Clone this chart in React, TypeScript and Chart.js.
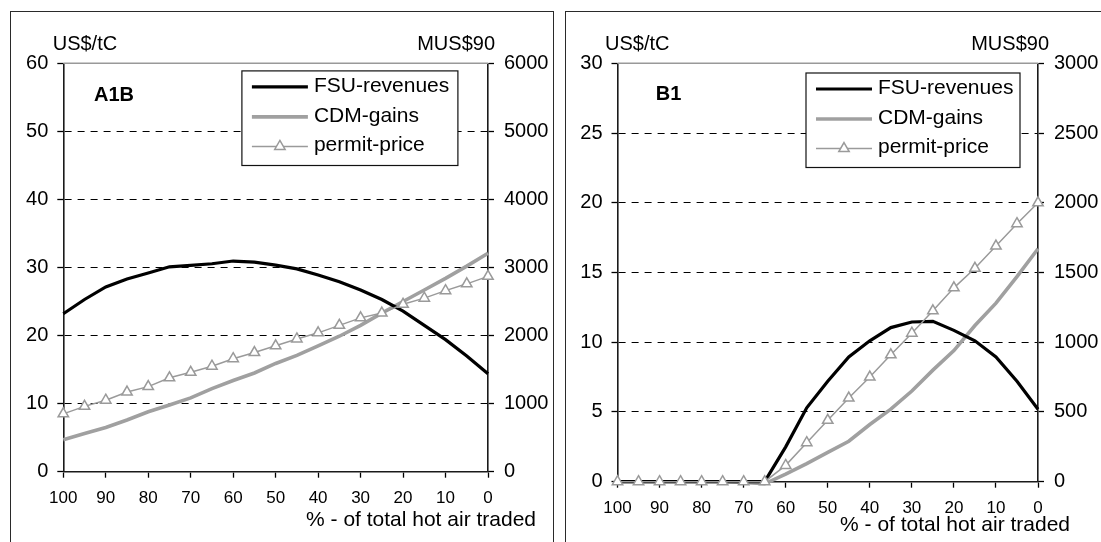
import React, { useEffect, useRef } from "react";
import { Chart, registerables } from "chart.js";

Chart.register(...registerables);

// Share of the total hot air that is traded (%), plotted right-to-left
const hotAirShare = [100, 95, 90, 85, 80, 75, 70, 65, 60, 55, 50, 45, 40, 35, 30, 25, 20, 15, 10, 5, 0];

// A1B scenario
const a1bFsuRevenues = [2320, 2530, 2715, 2830, 2920, 3010, 3030, 3055, 3095, 3080, 3035, 2980, 2890, 2790, 2670, 2530, 2360, 2150, 1940, 1700, 1440]; // MUS$90
const a1bCdmGains = [470, 560, 650, 760, 880, 980, 1085, 1220, 1340, 1450, 1590, 1710, 1850, 1990, 2150, 2330, 2500, 2670, 2840, 3020, 3210]; // MUS$90
const a1bPermitPrice = [8.5, 9.6, 10.5, 11.7, 12.5, 13.8, 14.6, 15.5, 16.6, 17.5, 18.5, 19.5, 20.4, 21.5, 22.6, 23.3, 24.6, 25.5, 26.6, 27.6, 28.7]; // US$/tC

// B1 scenario
const b1FsuRevenues = [0, 0, 0, 0, 0, 0, 0, 0, 250, 530, 720, 895, 1010, 1105, 1145, 1150, 1085, 1010, 895, 720, 520]; // MUS$90
const b1CdmGains = [0, 0, 0, 0, 0, 0, -5, -15, 55, 130, 210, 290, 410, 520, 650, 800, 940, 1120, 1280, 1470, 1670]; // MUS$90
const b1PermitPrice = [0, 0, 0, 0, 0, 0, 0, 0, 1.17, 2.8, 4.4, 6.0, 7.5, 9.1, 10.65, 12.25, 13.9, 15.3, 16.9, 18.5, 20.0]; // US$/tC

// Axis ranges
const a1bPriceMax = 60;
const a1bPriceStep = 10;
const a1bMoneyMax = 6000;
const a1bMoneyStep = 1000;
const b1PriceMax = 30;
const b1PriceStep = 5;
const b1MoneyMax = 3000;
const b1MoneyStep = 500;

const seriesNames = ["FSU-revenues", "CDM-gains", "permit-price"];
const priceUnit = "US$/tC";
const moneyUnit = "MUS$90";
const xAxisTitle = "% - of total hot air traded";

const FONT = "'Liberation Sans', Arial, Helvetica, sans-serif";
const BLACK = "#000000";
const GRAY_THICK = "#a0a0a0";
const GRAY_THIN = "#9a9a9a";
const AXIS = "#1a1a1a";

type PanelSpec = {
  name: string;
  fsu: number[];
  cdm: number[];
  price: number[];
  priceMax: number;
  priceStep: number;
  moneyMax: number;
  moneyStep: number;
  canvasWidth: number;
  leftAxisWidth: number;
  rightAxisWidth: number;
  bottomAxisHeight: number;
  unitLeftDx: number;
  unitRightDx: number;
  nameDx: number;
  nameDy: number;
  titleDx: number;
  titleDy: number;
  legendDx: number;
  legendDy: number;
  legendW: number;
  legendH: number;
};

function toPoints(values: number[]) {
  return values.map((v, i) => ({ x: hotAirShare[i], y: v }));
}

// plain integer labels, no thousands separator
const plainLabel = (v: number | string) => String(v);

function drawTriangle(ctx: CanvasRenderingContext2D, x: number, y: number, r: number) {
  let rad = 0;
  ctx.beginPath();
  ctx.moveTo(x + Math.sin(rad) * r, y - Math.cos(rad) * r);
  rad += (2 * Math.PI) / 3;
  ctx.lineTo(x + Math.sin(rad) * r, y - Math.cos(rad) * r);
  rad += (2 * Math.PI) / 3;
  ctx.lineTo(x + Math.sin(rad) * r, y - Math.cos(rad) * r);
  ctx.closePath();
  ctx.fillStyle = "#ffffff";
  ctx.fill();
  ctx.stroke();
}

function decorPlugin(p: PanelSpec) {
  return {
    id: "panelDecor",
    beforeDatasetsDraw(chart: any) {
      const { ctx, chartArea: ca } = chart;
      // light frame along the top of the plot area
      ctx.save();
      ctx.strokeStyle = "#999999";
      ctx.lineWidth = 1.5;
      ctx.beginPath();
      ctx.moveTo(ca.left, ca.top);
      ctx.lineTo(ca.right, ca.top);
      ctx.stroke();
      ctx.restore();
    },
    afterDraw(chart: any) {
      const { ctx, chartArea: ca } = chart;
      ctx.save();
      ctx.fillStyle = BLACK;
      ctx.textBaseline = "middle";

      // axis units
      ctx.font = `20px ${FONT}`;
      ctx.textAlign = "left";
      ctx.fillText(priceUnit, ca.left + p.unitLeftDx, ca.top - 18.5);
      ctx.textAlign = "right";
      ctx.fillText(moneyUnit, ca.right + p.unitRightDx, ca.top - 19);

      // scenario name
      ctx.font = `bold 20px ${FONT}`;
      ctx.textAlign = "center";
      ctx.fillText(p.name, ca.left + p.nameDx, ca.top + p.nameDy);

      // x-axis title
      ctx.font = `21px ${FONT}`;
      ctx.textAlign = "right";
      ctx.fillText(xAxisTitle, ca.right + p.titleDx, ca.bottom + p.titleDy);

      // legend box
      const lx = ca.left + p.legendDx;
      const ly = ca.top + p.legendDy;
      ctx.fillStyle = "#ffffff";
      ctx.fillRect(lx, ly, p.legendW, p.legendH);
      ctx.strokeStyle = "#111111";
      ctx.lineWidth = 1.2;
      ctx.strokeRect(lx, ly, p.legendW, p.legendH);

      const rows = [16, 46, 75.5];
      const styles = [
        { color: BLACK, width: 3.2, marker: false },
        { color: GRAY_THICK, width: 3.6, marker: false },
        { color: GRAY_THIN, width: 1.5, marker: true },
      ];
      ctx.font = `21px ${FONT}`;
      ctx.textAlign = "left";
      rows.forEach((dy, i) => {
        const y = ly + dy;
        const s = styles[i];
        ctx.strokeStyle = s.color;
        ctx.lineWidth = s.width;
        ctx.beginPath();
        ctx.moveTo(lx + 10, y);
        ctx.lineTo(lx + 66, y);
        ctx.stroke();
        if (s.marker) {
          ctx.lineWidth = 1.5;
          drawTriangle(ctx, lx + 38, y, 6);
        }
        ctx.fillStyle = BLACK;
        ctx.fillText(seriesNames[i], lx + 72, y - 1);
      });
      ctx.restore();
    },
  };
}

function buildChart(canvas: HTMLCanvasElement, p: PanelSpec) {
  const tickFont = { family: FONT, size: 20 };
  return new Chart(canvas, {
    type: "line",
    data: {
      datasets: [
        {
          label: seriesNames[2],
          data: toPoints(p.price),
          yAxisID: "y",
          borderColor: GRAY_THIN,
          borderWidth: 1.5,
          pointStyle: "triangle",
          pointRadius: 6,
          pointBorderColor: GRAY_THIN,
          pointBackgroundColor: "#ffffff",
          pointBorderWidth: 1.5,
          order: 0,
          clip: false,
          tension: 0,
        },
        {
          label: seriesNames[0],
          data: toPoints(p.fsu),
          yAxisID: "y1",
          borderColor: BLACK,
          borderWidth: 3.2,
          pointRadius: 0,
          order: 1,
          clip: false,
          tension: 0,
        },
        {
          label: seriesNames[1],
          data: toPoints(p.cdm),
          yAxisID: "y1",
          borderColor: GRAY_THICK,
          borderWidth: 3.6,
          pointRadius: 0,
          order: 2,
          clip: false,
          tension: 0,
        },
      ],
    },
    options: {
      responsive: false,
      animation: false,
      devicePixelRatio: 1,
      layout: { padding: { top: 63.3, left: 0, right: 0, bottom: 0 } },
      plugins: {
        legend: { display: false },
        tooltip: { enabled: false },
      },
      scales: {
        x: {
          type: "linear",
          reverse: true,
          min: 0,
          max: 100,
          ticks: {
            stepSize: 10,
            color: BLACK,
            font: { family: FONT, size: 17 },
            padding: 10,
            maxRotation: 0,
            autoSkip: false,
            callback: plainLabel,
          },
          grid: {
            drawOnChartArea: false,
            tickLength: 6,
            color: BLACK,
            tickColor: BLACK,
            tickWidth: 1.3,
          },
          border: { color: AXIS, width: 1.6 },
          afterFit: (s: any) => {
            s.height = p.bottomAxisHeight;
          },
        },
        y: {
          type: "linear",
          position: "left",
          min: 0,
          max: p.priceMax,
          ticks: {
            stepSize: p.priceStep,
            color: BLACK,
            font: tickFont,
            padding: 9,
            callback: plainLabel,
          },
          grid: {
            color: (c: any) =>
              c.tick && (c.tick.value === 0 || c.tick.value === p.priceMax) ? "rgba(0,0,0,0)" : BLACK,
            lineWidth: 1,
            tickColor: BLACK,
            tickLength: 6,
            tickWidth: 1.3,
            tickBorderDash: [],
          },
          border: { color: AXIS, width: 1.6, dash: [7, 6] },
          afterFit: (s: any) => {
            s.width = p.leftAxisWidth;
          },
        },
        y1: {
          type: "linear",
          position: "right",
          min: 0,
          max: p.moneyMax,
          ticks: {
            stepSize: p.moneyStep,
            color: BLACK,
            font: tickFont,
            padding: 10,
            callback: plainLabel,
          },
          grid: {
            drawOnChartArea: false,
            tickColor: BLACK,
            tickLength: 6,
            tickWidth: 1.3,
          },
          border: { color: AXIS, width: 1.6 },
          afterFit: (s: any) => {
            s.width = p.rightAxisWidth;
          },
        },
      },
    },
    plugins: [decorPlugin(p)],
  } as any);
}

const a1bPanel: PanelSpec = {
  name: "A1B",
  fsu: a1bFsuRevenues,
  cdm: a1bCdmGains,
  price: a1bPermitPrice,
  priceMax: a1bPriceMax,
  priceStep: a1bPriceStep,
  moneyMax: a1bMoneyMax,
  moneyStep: a1bMoneyStep,
  canvasWidth: 560,
  leftAxisWidth: 63.3,
  rightAxisWidth: 72,
  bottomAxisHeight: 70.3,
  unitLeftDx: -10.6,
  unitRightDx: 7,
  nameDx: 50.7,
  nameDy: 31.7,
  titleDx: 48,
  titleDy: 48.3,
  legendDx: 178.6,
  legendDy: 7.6,
  legendW: 216,
  legendH: 94.6,
};

const b1Panel: PanelSpec = {
  name: "B1",
  fsu: b1FsuRevenues,
  cdm: b1CdmGains,
  price: b1PermitPrice,
  priceMax: b1PriceMax,
  priceStep: b1PriceStep,
  moneyMax: b1MoneyMax,
  moneyStep: b1MoneyStep,
  canvasWidth: 541,
  leftAxisWidth: 57.5,
  rightAxisWidth: 63,
  bottomAxisHeight: 60.3,
  unitLeftDx: -12.5,
  unitRightDx: 11,
  nameDx: 51,
  nameDy: 30.7,
  titleDx: 32,
  titleDy: 43.3,
  legendDx: 188.5,
  legendDy: 9.7,
  legendW: 214,
  legendH: 94.5,
};

function Panel({ spec, left }: { spec: PanelSpec; left: number }) {
  const ref = useRef<HTMLCanvasElement | null>(null);
  useEffect(() => {
    if (!ref.current) return;
    const chart = buildChart(ref.current, spec);
    return () => chart.destroy();
  }, [spec]);
  return (
    <canvas
      ref={ref}
      width={spec.canvasWidth}
      height={542}
      style={{ position: "absolute", left, top: 0, width: spec.canvasWidth, height: 542 }}
    />
  );
}

export default function App() {
  const frame: React.CSSProperties = {
    position: "absolute",
    top: 11,
    height: 600,
    border: "1.4px solid #2a2a2a",
    boxSizing: "border-box",
  };
  return (
    <div
      style={{
        position: "fixed",
        left: 0,
        top: 0,
        width: 1101,
        height: 542,
        overflow: "hidden",
        background: "#ffffff",
      }}
    >
      <div style={{ ...frame, left: 10, width: 544 }} />
      <div style={{ ...frame, left: 565, width: 600 }} />
      <Panel spec={a1bPanel} left={0} />
      <Panel spec={b1Panel} left={560} />
    </div>
  );
}
